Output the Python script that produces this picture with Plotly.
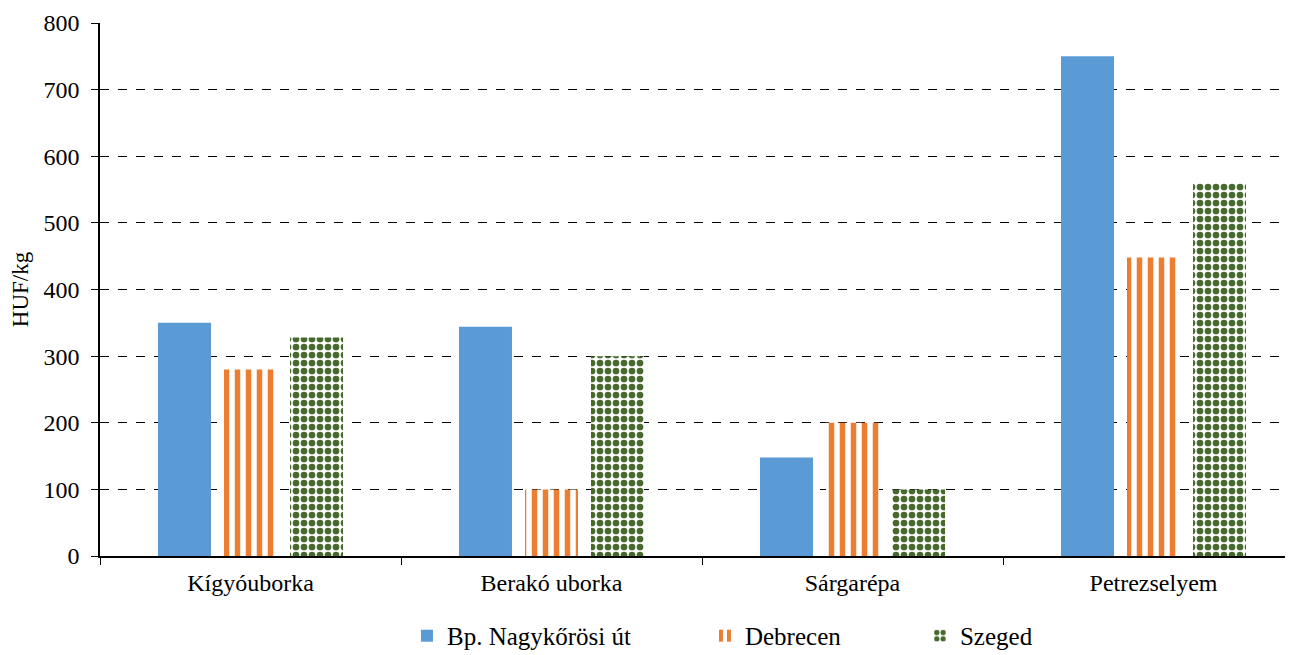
import plotly.graph_objects as go

categories = ["Kígyóuborka", "Berakó uborka", "Sárgarépa", "Petrezselyem"]
series_names = ["Bp. Nagykőrösi út", "Debrecen", "Szeged"]
bp_values = [350, 344, 148, 750]
debrecen_values = [280, 100, 200, 448]
szeged_values = [328, 300, 100, 560]
y_ticks = [0, 100, 200, 300, 400, 500, 600, 700, 800]

FONT = "Liberation Serif"

fig = go.Figure()
fig.add_trace(go.Bar(
    x=categories, y=bp_values, name=series_names[0],
    marker=dict(color="#5B9BD5", line=dict(width=0)),
    legend="legend",
))
fig.add_trace(go.Bar(
    x=categories, y=debrecen_values, name=series_names[1],
    marker=dict(color="white", line=dict(width=0),
                pattern=dict(shape="|", fgcolor="#ED7D31", bgcolor="white",
                             size=11, solidity=0.5, fillmode="replace")),
    legend="legend2",
))
fig.add_trace(go.Bar(
    x=categories, y=szeged_values, name=series_names[2],
    marker=dict(color="white", line=dict(width=0),
                pattern=dict(shape=".", fgcolor="#46692D", bgcolor="white",
                             size=8, solidity=0.55, fillmode="replace")),
    legend="legend3",
))

leg_common = dict(orientation="h", yanchor="middle", xanchor="left",
                  font=dict(family=FONT, size=25, color="black"),
                  bgcolor="rgba(0,0,0,0)", itemwidth=30)

fig.update_layout(
    width=1285, height=647,
    margin=dict(l=92, r=0, t=15, b=99, autoexpand=False),
    paper_bgcolor="white", plot_bgcolor="white",
    barmode="group", bargap=0.342, bargroupgap=0.197,
    font=dict(family=FONT, size=24, color="black"),
    showlegend=True,
    legend=dict(x=0.2573, y=-0.150, **leg_common),
    legend2=dict(x=0.5071, y=-0.150, **leg_common),
    legend3=dict(x=0.6873, y=-0.150, **leg_common),
    xaxis=dict(
        range=[-0.5, 3.5 - 11 / 301], automargin=False,
        showline=True, linecolor="black", linewidth=1.5,
        ticks="outside", tickson="boundaries", ticklen=7, tickcolor="black",
        ticklabelstandoff=4,
        showgrid=False, tickfont=dict(family=FONT, size=24),
    ),
    yaxis=dict(
        range=[0, 800], tickvals=y_ticks, automargin=False,
        showline=True, linecolor="black", linewidth=1.5,
        ticks="outside", ticklen=7, tickcolor="black",
        ticklabelstandoff=7,
        showgrid=True, gridcolor="black", gridwidth=1.3, griddash="dash",
        zeroline=False, tickfont=dict(family=FONT, size=24),
        title=dict(text="HUF/kg", font=dict(family=FONT, size=23), standoff=8),
    ),
)

fig.write_html("out.html")
